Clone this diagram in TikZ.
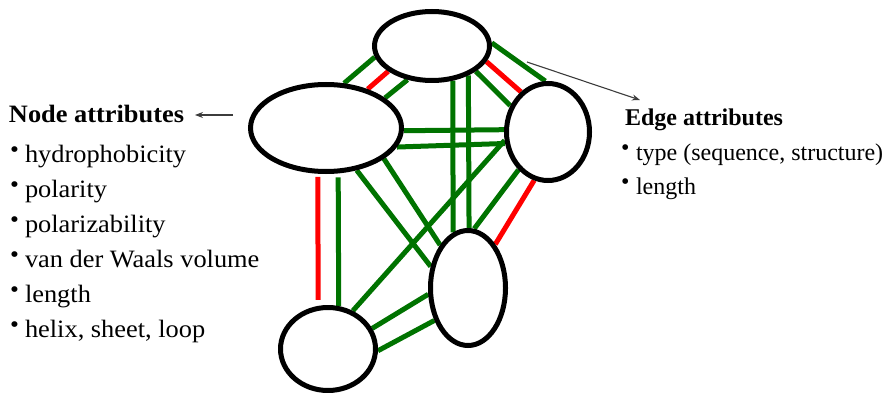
\documentclass[tikz,border=0pt]{standalone}
\usepackage{fontspec}
\setmainfont{Liberation Serif}
\newfontfamily\leftfont[FakeStretch=1.055]{Liberation Serif}
\newfontfamily\rightfont{Liberation Serif}
\usetikzlibrary{arrows.meta,shapes.geometric}
\pgfdeclarelayer{background}
\pgfsetlayers{background,main}
\definecolor{edgegreen}{RGB}{0,115,0}
\definecolor{edgered}{RGB}{255,0,0}
\definecolor{ptrgray}{RGB}{60,60,60}
\newcommand\bul{\makebox[15pt][l]{\raisebox{4.5pt}{\fontsize{24}{24}\selectfont •}}}
\tikzset{
  ell/.style={ellipse, draw=black, fill=white, line width=5pt, inner sep=0pt},
  ge/.style={draw=edgegreen, line width=5pt},
  re/.style={draw=edgered, line width=5pt},
  lbl/.style={anchor=base west, inner sep=0pt, outer sep=0pt},
  leftlbl/.style={lbl, font=\leftfont\fontsize{25}{30}\selectfont},
  rightlbl/.style={lbl, font=\rightfont\fontsize{24}{30}\selectfont},
  ptr/.style={draw=ptrgray, line width=1.1pt, -{Stealth[length=8pt,width=6pt]}}
}
\begin{document}
\begin{tikzpicture}[x=1pt,y=-1pt]
\useasboundingbox (0,0) rectangle (888,393);
% nodes
\node[ell, minimum width=115pt, minimum height=69pt] (A) at (432,46) {};
\node[ell, minimum width=151pt, minimum height=87pt] (B) at (326,128) {};
\node[ell, minimum width=83pt, minimum height=97pt] (C) at (548,132) {};
\node[ell, minimum width=75pt, minimum height=115pt] (D) at (468,288) {};
\node[ell, minimum width=95pt, minimum height=83pt] (E) at (328,349) {};
% edges
\begin{pgfonlayer}{background}
% A-B
\draw[ge] (A.191) -- (B.68);
\draw[re] (A.210) -- (B.43);
\draw[ge] (A.234) -- (B.27);
% A-C
\draw[ge] (A.3) -- (C.93.5);
\draw[re] (A.344) -- (C.124);
\draw[ge] (A.330) -- (C.145);
% B-C
\draw[ge] (B.358.5) -- (C.177);
\draw[ge] (B.345.6) -- (C.195);
% A-D
\draw[ge] (A.301.2) -- (D.105.1);
\draw[ge] (A.321.8) -- (D.89);
% C-E
\draw[ge] (C.191) -- (E.57);
% B-D
\draw[ge] (B.306.6) -- (D.150.9);
\draw[ge] (B.332.6) -- (D.123.3);
% C-D
\draw[ge] (C.232.1) -- (D.84.9);
\draw[re] (C.254.8) -- (D.58);
% B-E
\draw[re, shorten <=3pt, shorten >=6pt] (B.260) -- (E.103);
\draw[ge, shorten <=4pt] (B.285.8) -- (E.76);
% D-E
\draw[ge] (D.189.7) -- (E.25.1);
\draw[ge] (D.224.1) -- (E.358.9);
\end{pgfonlayer}
% labels
\node[leftlbl] (nodehdr) at (9,123) {\textbf{Node attributes}};
\node[leftlbl] (n1) at (10,162) {\bul hydrophobicity};
\node[leftlbl] (n2) at (10,197) {\bul polarity};
\node[leftlbl] (n3) at (10,232) {\bul polarizability};
\node[leftlbl] (n4) at (10,267) {\bul van der Waals volume};
\node[leftlbl] (n5) at (10,302) {\bul length};
\node[leftlbl] (n6) at (10,337) {\bul helix, sheet, loop};
\node[rightlbl] (edgehdr) at (625,125) {\textbf{Edge attributes}};
\node[rightlbl] (e1) at (621,160) {\bul type (sequence, structure)};
\node[rightlbl] (e2) at (621,194) {\bul length};
% pointers
\coordinate (nodeptr) at (233,115);
\coordinate (nodetip) at (195,115);
\coordinate (edgeptr) at (527,62);
\coordinate (edgetip) at (640,100);
\draw[ptr] (nodeptr) -- (nodetip);
\draw[ptr] (edgeptr) -- (edgetip);
\end{tikzpicture}
\end{document}
